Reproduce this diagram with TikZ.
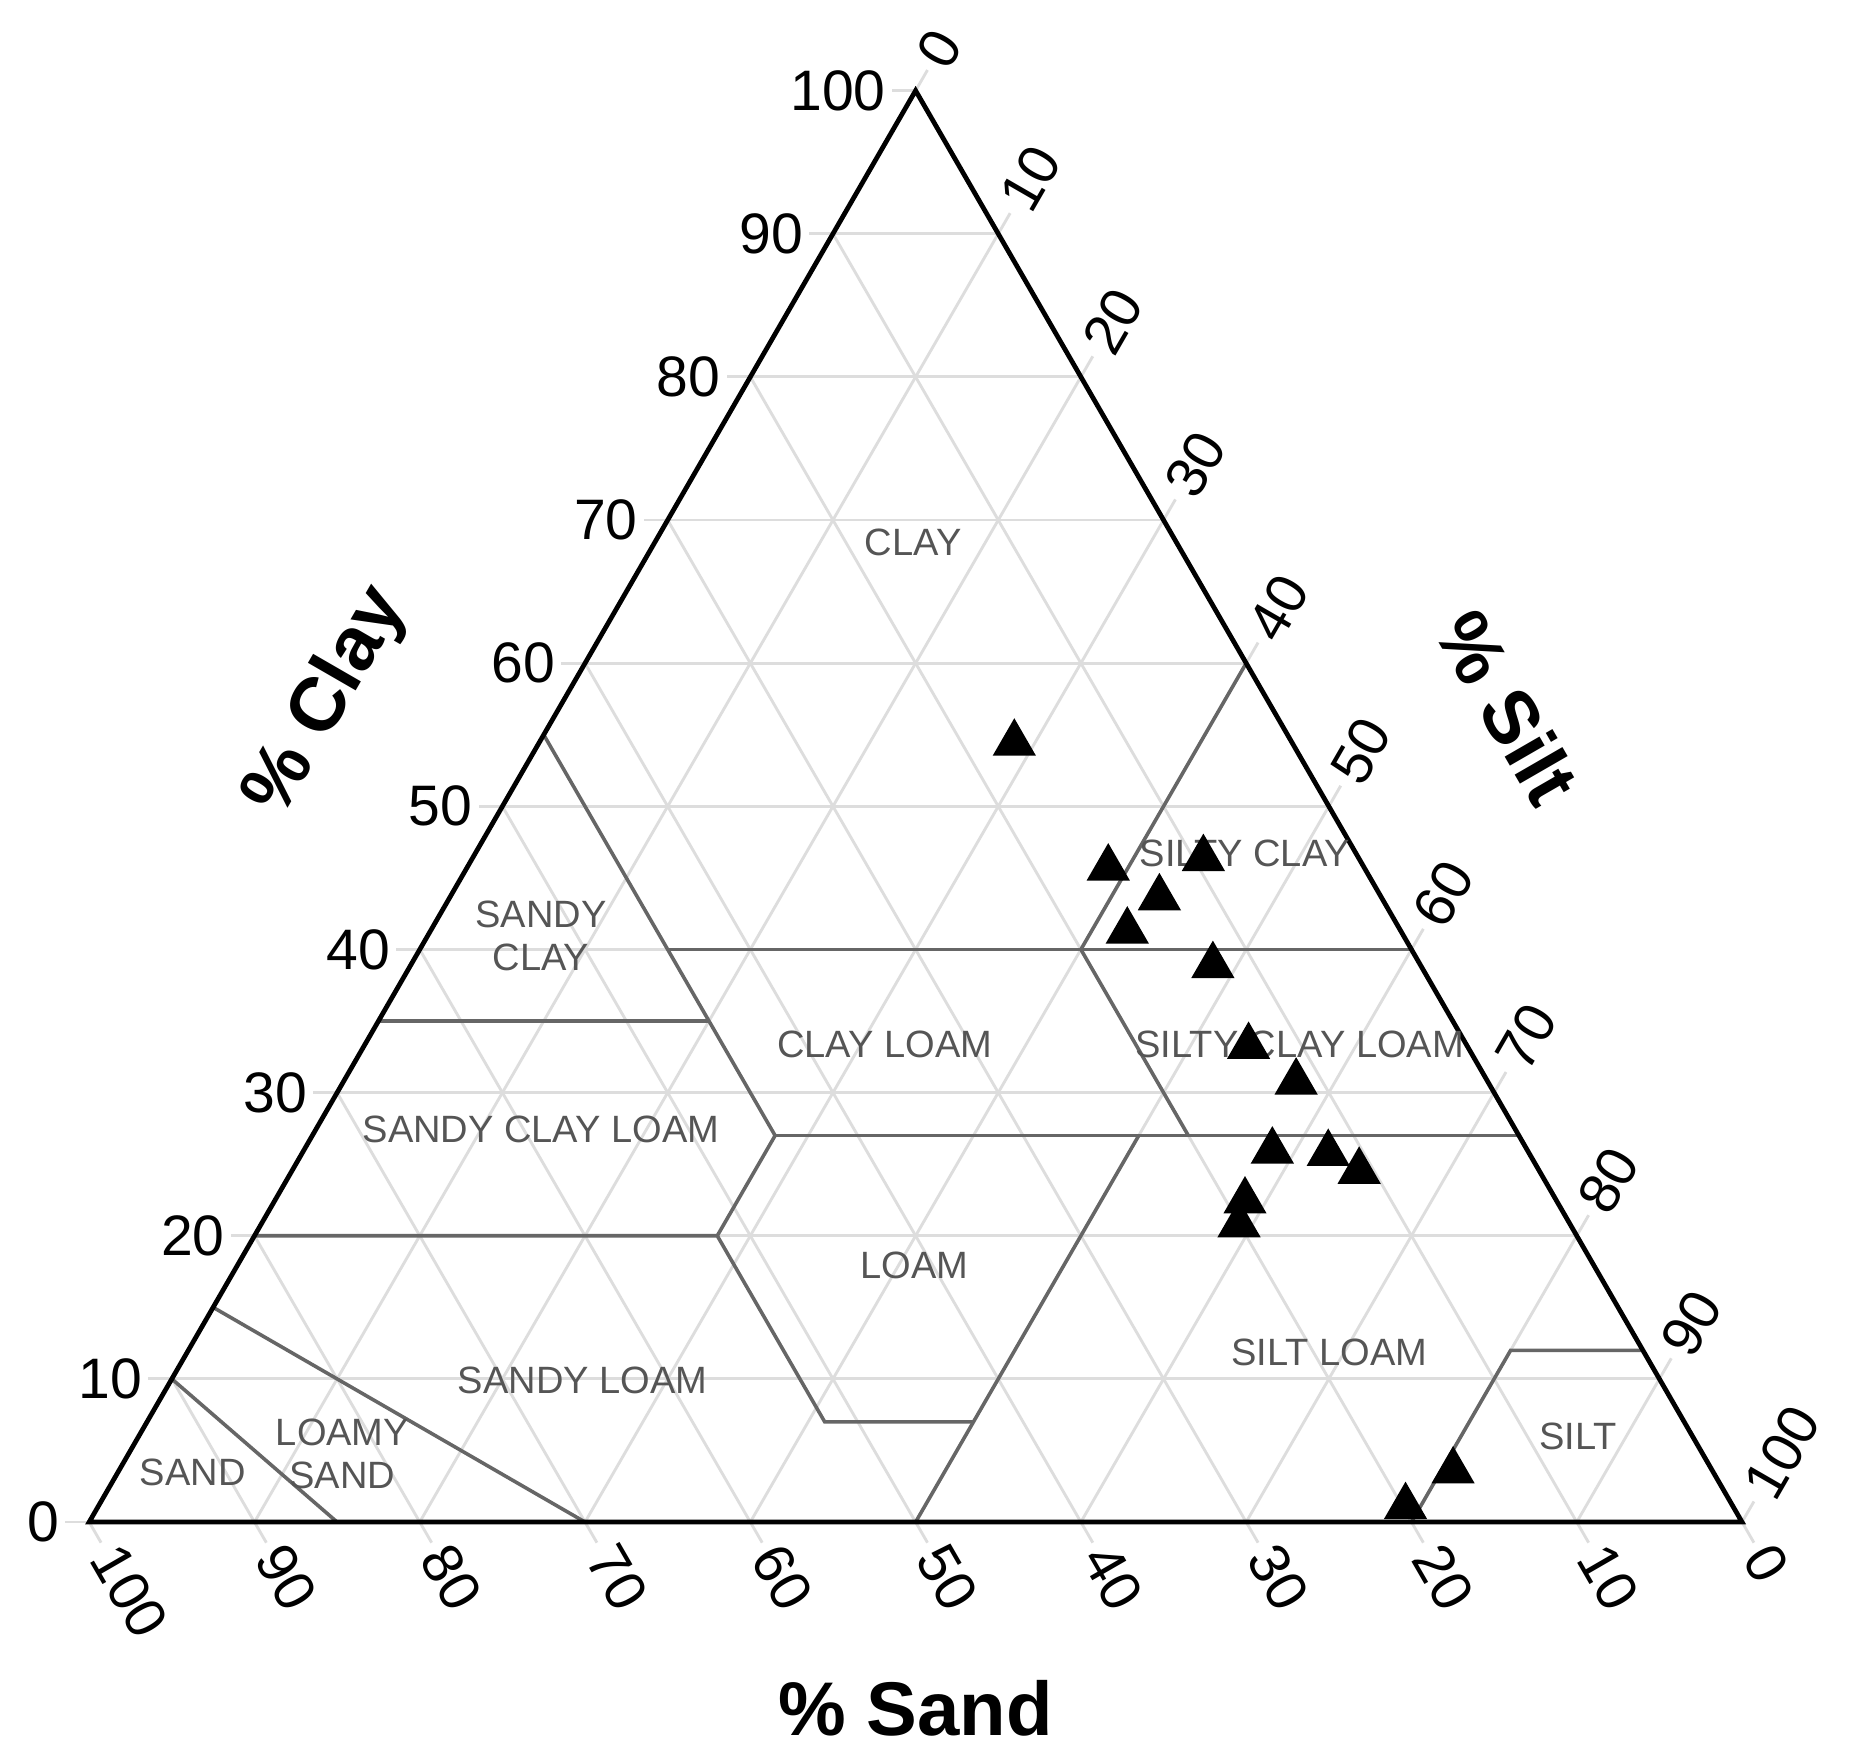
\documentclass[tikz,border=0pt]{standalone}
\usepackage{fontspec}
\setmainfont{Liberation Sans}
\usetikzlibrary{shapes.geometric}
\definecolor{gridc}{HTML}{DDDDDD}
\definecolor{bound}{HTML}{666666}
\definecolor{lab}{HTML}{555555}
\tikzset{
  gridline/.style={draw=gridc,line width=1.2pt},
  boundline/.style={draw=bound,line width=1.5pt},
  axisline/.style={draw=black,line width=2pt,line join=miter},
  ticklab/.style={font=\fontsize{24}{24}\selectfont},
  axtitle/.style={font=\fontsize{32}{32}\selectfont\bfseries},
  region/.style={font=\fontsize{16}{18}\selectfont,text=lab,align=center},
  pt/.style={regular polygon,regular polygon sides=3,fill=black,inner sep=0pt,minimum size=21pt}
}
\begin{document}
\begin{tikzpicture}[x=0.5pt,y=-0.5pt]
\useasboundingbox (0,0) rectangle (1560,1483);
\fill[white] (0,0) rectangle (1560,1483);
\begin{scope}[shift={(75,1280)},x={(6.95pt,0pt)},y={(3.475pt,6.019pt)}]
  % grid
  \foreach \v in {10,20,...,90}{
    \draw[gridline] (0,\v)--(100-\v,\v);
    \draw[gridline] (\v,0)--(\v,100-\v);
    \draw[gridline] (100-\v,0)--(0,100-\v);
  }
  \foreach \v in {0,10,...,100}{
    \draw[gridline] (0,\v)--++(-10pt,0) node[ticklab,anchor=east,inner sep=2pt] (cl\v) {\v};
    \draw[gridline] (\v,100-\v)--++(60:10pt) node[ticklab,anchor=west,rotate=60,inner sep=3pt] (si\v) {\v};
    \draw[gridline] (100-\v,0)--++(-60:10pt) node[ticklab,anchor=west,rotate=-60,inner sep=3pt] (sa\v) {\v};
  }
  % boundaries
  \draw[boundline] (15,0)--(0,10);
  \draw[boundline] (30,0)--(0,15);
  \draw[boundline] (0,20)--(28,20)--(41,7)--(50,7);
  \draw[boundline] (50,0)--(50,27);
  \draw[boundline] (0,35)--(20,35);
  \draw[boundline] (0,55)--(28,27)--(28,20);
  \draw[boundline] (28,27)--(73,27);
  \draw[boundline] (15,40)--(60,40);
  \draw[boundline] (40,60)--(40,40)--(53,27);
  \draw[boundline] (80,0)--(80,12)--(88,12);
  % axes
  \draw[axisline] (0,0)--(100,0)--(0,100)--cycle;
\end{scope}
% axis titles
\node[axtitle,rotate=60] (tclay) at (275,590) {\% Clay};
\node[axtitle,rotate=-60] (tsilt) at (1268,595) {\% Silt};
\node[axtitle] (tsand) at (770,1437) {\% Sand};
% region labels
\node[region] (r1) at (768,456) {CLAY};
\node[region] (r2) at (455,787) {SANDY\\CLAY};
\node[region] (r3) at (744,878) {CLAY LOAM};
\node[region] (r4) at (1047,718) {SILTY CLAY};
\node[region] (r5) at (1093,878) {SILTY CLAY LOAM};
\node[region] (r6) at (455,950) {SANDY CLAY LOAM};
\node[region] (r7) at (769,1064) {LOAM};
\node[region] (r8) at (490,1161) {SANDY LOAM};
\node[region] (r9) at (1118,1137) {SILT LOAM};
\node[region] (r10) at (1327,1208) {SILT};
\node[region] (r11) at (288,1223) {LOAMY\\SAND};
\node[region] (r12) at (162,1238) {SAND};
% data points
\foreach \px/\py [count=\i] in {853/625,932/730,1012/722,975/755,948/783,1020/812,1050/880,1090/910,1070/968,1117/970,1143/985,1047/1010,1042/1030,1222/1237,1182/1267}
  \node[pt] (p\i) at (\px,\py) {};
\end{tikzpicture}
\end{document}
